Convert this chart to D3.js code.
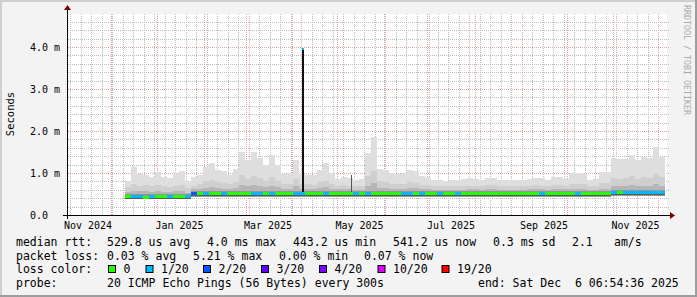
<!DOCTYPE html>
<html>
<head>
<meta charset="utf-8">
<script src="https://cdn.jsdelivr.net/npm/d3@7"></script>
<style>
  body { margin: 0; background: #f3f3f3; }
  svg text { font-family: "DejaVu Sans Mono", monospace; white-space: pre; }
</style>
</head>
<body>
<div id="chart"></div>
<script>
// time range of the graph (400 days)
const rangeStart = Date.UTC(2024, 10, 1, 6, 54, 36);
const rangeEnd = Date.UTC(2025, 11, 6, 6, 54, 36);

// consolidated rows, one every 4 days from Dec 10 2024
const dataStart = Date.UTC(2024, 11, 10, 14, 0, 0);
const stepDays = 4;

// median rtt (ms)
const median = [0.45,0.45,0.45,0.44,0.45,0.45,0.45,0.45,0.45,0.45,0.45,
  0.53,0.53,0.53,0.53,0.53,0.53,0.53,0.53,0.53,0.53,0.53,
  0.53,0.53,0.53,0.53,0.53,0.53,0.53,0.53,0.53,0.53,0.53,0.53,0.53,0.53,0.53,0.53,0.53,0.53,
  0.53,0.53,0.53,0.53,0.53,0.53,0.53,0.53,0.53,0.53,0.53,
  0.53,0.53,0.53,0.53,0.53,0.53,0.53,0.53,0.53,0.53,
  0.53,0.53,0.53,0.53,0.53,0.53,0.53,0.53,0.53,0.53,0.53,0.53,0.53,0.53,0.53,0.53,0.53,0.53,0.53,0.53,
  0.54,0.54,0.555,0.555,0.555,0.555,0.555,0.555,0.555];

// loss bucket index per row (0 = 0, 1 = 1/20, 2 = 2/20 ...)
const loss = [0,1,1,0,1,0,0,1,0,0,1,
  2,0,1,0,0,1,0,0,0,0,1,
  1,0,1,0,0,0,1,1,0,0,0,1,0,0,0,0,1,0,
  1,0,0,0,0,0,1,1,0,1,0,
  0,1,0,0,1,0,0,0,0,0,
  0,0,0,0,0,0,0,0,1,0,0,0,0,0,1,0,0,0,0,0,
  1,0,1,1,1,1,1,1,1];

// smoke: outer / middle / inner percentile tops and bottom (ms)
const smokeTop = [0.82,1.15,0.98,0.95,0.91,1.02,0.91,0.88,0.98,1.05,0.80,
  0.90,0.95,1.15,1.24,1.07,1.05,0.95,1.10,1.50,1.30,1.50,
  1.35,1.20,1.43,1.20,0.98,1.00,1.31,0.98,0.95,0.95,1.07,1.23,1.00,0.86,0.90,0.88,0.83,0.85,
  1.47,1.86,1.10,1.07,1.00,0.98,1.00,1.08,1.05,0.93,0.90,
  0.84,0.83,0.82,0.84,0.83,0.85,0.87,0.86,0.84,0.89,
  0.89,0.84,0.83,0.83,0.84,0.83,0.86,0.89,0.88,0.84,0.90,0.90,0.85,1.00,1.00,0.98,0.83,0.85,1.03,1.02,
  1.36,1.33,1.33,1.43,1.30,1.38,1.36,1.62,1.38];

const smokeMid = [0.66,0.74,0.70,0.72,0.68,0.71,0.69,0.66,0.70,0.72,0.64,
  0.70,0.74,0.80,0.84,0.78,0.76,0.74,0.78,0.95,0.86,0.92,
  0.88,0.82,0.90,0.82,0.74,0.75,0.86,0.74,0.73,0.72,0.78,0.82,0.74,0.70,0.71,0.70,0.68,0.69,
  0.92,1.05,0.80,0.78,0.75,0.74,0.75,0.78,0.77,0.72,0.71,
  0.69,0.68,0.68,0.69,0.68,0.69,0.70,0.70,0.69,0.71,
  0.71,0.69,0.68,0.68,0.69,0.68,0.70,0.71,0.70,0.69,0.72,0.72,0.70,0.75,0.75,0.74,0.68,0.69,0.76,0.76,
  0.88,0.86,0.87,0.92,0.86,0.90,0.88,0.98,0.90];

const smokeInner = [0.55,0.58,0.56,0.57,0.55,0.57,0.55,0.54,0.56,0.57,0.53,
  0.61,0.62,0.65,0.67,0.64,0.63,0.62,0.64,0.72,0.68,0.71,
  0.69,0.66,0.70,0.66,0.62,0.63,0.68,0.62,0.62,0.61,0.64,0.66,0.62,0.61,0.61,0.61,0.60,0.60,
  0.70,0.76,0.64,0.64,0.63,0.62,0.63,0.64,0.64,0.62,0.61,
  0.60,0.60,0.60,0.60,0.60,0.60,0.61,0.61,0.60,0.61,
  0.61,0.60,0.60,0.60,0.60,0.60,0.61,0.61,0.61,0.60,0.62,0.62,0.61,0.63,0.63,0.63,0.60,0.60,0.63,0.63,
  0.69,0.68,0.69,0.71,0.68,0.70,0.69,0.74,0.70];

const smokeLow = [0.41,0.41,0.41,0.40,0.41,0.41,0.41,0.41,0.41,0.41,0.41,
  0.44,0.44,0.44,0.44,0.44,0.44,0.44,0.44,0.44,0.44,0.44,
  0.44,0.44,0.44,0.44,0.44,0.44,0.44,0.44,0.44,0.44,0.44,0.44,0.44,0.44,0.44,0.44,0.44,0.44,
  0.44,0.44,0.44,0.44,0.44,0.44,0.44,0.44,0.44,0.44,0.44,
  0.44,0.44,0.44,0.44,0.44,0.44,0.44,0.44,0.44,0.44,
  0.44,0.44,0.44,0.44,0.44,0.44,0.44,0.44,0.44,0.44,0.44,0.44,0.44,0.44,0.44,0.44,0.44,0.44,0.44,0.44,
  0.45,0.45,0.46,0.46,0.46,0.46,0.46,0.46,0.46];

// single 5 minute outliers that survive consolidation
const peakDates = [Date.UTC(2025, 3, 8, 12), Date.UTC(2025, 4, 10, 12)];
const peakValues = [3.97, 0.95];
const peakBase = [0.53, 0.53];

// axis ticks
const yTicks = [0, 1, 2, 3, 4];
const yTickLabels = ["0.0  ", "1.0 m", "2.0 m", "3.0 m", "4.0 m"];
const xLabelMonths = [[2024,10],[2025,0],[2025,2],[2025,4],[2025,6],[2025,8],[2025,10]];

// legend
const lossLabels = ["0", "1/20", "2/20", "3/20", "4/20", "10/20", "19/20"];
const lossColors = ["#26ff00", "#00b8ff", "#0059ff", "#5e00ff", "#7e00ff", "#dd00ff", "#ff0000"];
const legendRtt = [["median rtt:", 16], ["529.8 us avg", 107], ["4.0 ms max", 207], ["443.2 us min", 293],
  ["541.2 us now", 393], ["0.3 ms sd", 493], ["2.1", 572], ["am/s", 614]];
const legendLoss = [["packet loss:", 16], ["0.03 % avg", 107], ["5.21 % max", 193], ["0.00 % min", 279], ["0.07 % now", 364]];
const lossLegendX = [108, 145.5, 203, 261, 319, 377.5, 441.5];
const probeText = "20 ICMP Echo Pings (56 Bytes) every 300s";
const endText = "end: Sat Dec  6 06:54:36 2025";

const W = 697, H = 297;
const plot = {left: 67, right: 667, top: 14, bottom: 215};

const svg = d3.select("#chart").append("svg")
  .attr("width", W)
  .attr("height", H);

// frame with rrdtool style shading
svg.append("rect").attr("x", 0).attr("y", 0).attr("width", W).attr("height", H).attr("fill", "#f3f3f3");
svg.append("path").attr("d", "M0,0H" + W + "V2H2V" + H + "H0Z").attr("fill", "#cfcfcf");
svg.append("path").attr("d", "M" + W + "," + H + "H0V" + (H - 2) + "H" + (W - 2) + "V0H" + W + "Z").attr("fill", "#9e9e9e");

svg.append("rect")
  .attr("x", plot.left).attr("y", plot.top)
  .attr("width", plot.right - plot.left).attr("height", plot.bottom - plot.top)
  .attr("fill", "#ffffff");

const x = d3.scaleUtc().domain([rangeStart, rangeEnd]).range([plot.left - 1, plot.right - 1]);
const y = d3.scaleLinear().domain([0, 1]).range([plot.bottom, plot.bottom - 42]);

svg.append("clipPath").attr("id", "clip")
  .append("rect")
  .attr("x", plot.left).attr("y", plot.top)
  .attr("width", plot.right - plot.left).attr("height", plot.bottom - plot.top);

// grid, drawn as 1px dots
const grid = svg.append("g").attr("shape-rendering", "crispEdges");
function hline(v, color) {
  const yy = Math.round(y(v));
  for (let xx = plot.left + 1; xx <= plot.right + 1; xx += 2) {
    grid.append("rect").attr("x", xx).attr("y", yy).attr("width", 1).attr("height", 1).attr("fill", color);
  }
}
function vline(t, color) {
  const xx = Math.round(x(t));
  for (let yy = plot.top; yy < plot.bottom; yy += 2) {
    grid.append("rect").attr("x", xx).attr("y", yy).attr("width", 1).attr("height", 1).attr("fill", color);
  }
}
const minorY = d3.range(0, 4.8, 0.2).filter(v => Math.abs(v - Math.round(v)) > 0.01);
const weeks = d3.utcMonday.range(new Date(rangeStart), new Date(rangeEnd));
const months = d3.utcMonth.range(new Date(rangeStart), new Date(rangeEnd));
minorY.forEach(v => hline(v, "#bcbcbc"));
weeks.forEach(t => vline(t, "#bcbcbc"));
yTicks.slice(1).forEach(v => hline(v, "#e2a4a4"));
months.forEach(t => vline(t, "#e2a4a4"));

// rows
const rows = median.map((m, i) => ({
  t0: dataStart + i * stepDays * 86400000,
  t1: dataStart + (i + 1) * stepDays * 86400000,
  median: m, loss: loss[i], top: smokeTop[i], mid: smokeMid[i], inner: smokeInner[i], low: smokeLow[i]
}));

const data = svg.append("g").attr("clip-path", "url(#clip)").attr("shape-rendering", "crispEdges");

function band(color, lo, hi) {
  data.append("g").selectAll("rect").data(rows).enter().append("rect")
    .attr("x", d => Math.round(x(d.t0)))
    .attr("width", d => Math.round(x(d.t1)) - Math.round(x(d.t0)))
    .attr("y", d => Math.round(y(hi(d))))
    .attr("height", d => Math.max(0, Math.round(y(lo(d))) - Math.round(y(hi(d)))))
    .attr("fill", color);
}
band("#dedede", d => d.low, d => d.top);
band("#cfcfcf", d => d.low, d => d.mid);
band("#b6b6b6", d => d.low, d => d.inner);
band("#959595", d => d.low, d => d.median + 0.05);
band("#5a5a5a", d => d.median - 0.07, d => d.median - 0.02);

// outliers
data.selectAll("rect.peak").data(peakDates).enter().append("rect")
  .attr("x", d => Math.round(x(d)) - (d === peakDates[0] ? 1 : 0))
  .attr("width", (d, i) => i === 0 ? 2 : 1)
  .attr("y", (d, i) => Math.round(y(peakValues[i])))
  .attr("height", (d, i) => Math.round(y(peakBase[i])) - Math.round(y(peakValues[i])))
  .attr("fill", (d, i) => i === 0 ? "#111111" : "#555555");
data.append("rect")
  .attr("x", Math.round(x(peakDates[0])) - 1).attr("width", 2)
  .attr("y", Math.round(y(peakValues[0]))).attr("height", 2)
  .attr("fill", lossColors[1]);

// median coloured by loss
data.append("g").selectAll("rect").data(rows).enter().append("rect")
  .attr("x", d => Math.round(x(d.t0)))
  .attr("width", d => Math.round(x(d.t1)) - Math.round(x(d.t0)))
  .attr("y", d => Math.round(y(d.median)) - 1)
  .attr("height", 3)
  .attr("fill", d => lossColors[d.loss]);

// axes
svg.append("line").attr("x1", plot.left - 4).attr("x2", plot.right + 3)
  .attr("y1", plot.bottom + 0.5).attr("y2", plot.bottom + 0.5).attr("stroke", "#000");
svg.append("line").attr("x1", plot.left + 0.5).attr("x2", plot.left + 0.5)
  .attr("y1", plot.bottom + 4).attr("y2", plot.top - 4).attr("stroke", "#000");
svg.append("path").attr("d", "M" + (plot.right + 3) + "," + (plot.bottom - 3) + "l5,3.5l-5,3.5z").attr("fill", "#7f0000");
svg.append("path").attr("d", "M" + (plot.left - 3) + "," + (plot.top - 4) + "l3.5,-5l3.5,5z").attr("fill", "#7f0000");

// y labels
svg.selectAll("text.ylab").data(yTicks).enter().append("text")
  .attr("x", 30).attr("y", d => y(d) + 3.5)
  .attr("font-size", "10px").attr("fill", "#000")
  .text((d, i) => yTickLabels[i]);

// x labels, centred on mid month
svg.selectAll("text.xlab").data(xLabelMonths).enter().append("text")
  .attr("x", d => x(Date.UTC(d[0], d[1], 16)))
  .attr("y", 228.5)
  .attr("text-anchor", "middle").attr("font-size", "10px").attr("fill", "#000")
  .text(d => d3.utcFormat("%b %Y")(new Date(Date.UTC(d[0], d[1], 1))));

svg.append("text")
  .attr("transform", "translate(14,114) rotate(-90)")
  .attr("text-anchor", "middle").attr("font-size", "10.5px")
  .text("Seconds");

svg.append("text")
  .attr("transform", "translate(684,5) rotate(90)")
  .attr("font-size", "8.3px").attr("fill", "#aaaaaa")
  .text("RRDTOOL / TOBI OETIKER");

// legend
const lg = svg.append("g").attr("font-size", "11.5px").attr("fill", "#000");
lg.selectAll("text.l1").data(legendRtt).enter().append("text")
  .attr("x", d => d[1]).attr("y", 246).text(d => d[0]);
lg.selectAll("text.l2").data(legendLoss).enter().append("text")
  .attr("x", d => d[1]).attr("y", 259.5).text(d => d[0]);
lg.append("text").attr("x", 16).attr("y", 273).text("loss color:");
lg.selectAll("rect.sw").data(lossLabels).enter().append("rect")
  .attr("x", (d, i) => lossLegendX[i] + 0.5).attr("y", 265.5)
  .attr("width", 7).attr("height", 7)
  .attr("fill", (d, i) => lossColors[i]).attr("stroke", "#000").attr("stroke-width", 1);
lg.selectAll("text.l3").data(lossLabels).enter().append("text")
  .attr("x", (d, i) => lossLegendX[i] + 15.5).attr("y", 273).text(d => d);
lg.append("text").attr("x", 16).attr("y", 286.5).text("probe:");
lg.append("text").attr("x", 107).attr("y", 286.5).text(probeText);
lg.append("text").attr("x", 478).attr("y", 286.5).text(endText);
</script>
</body>
</html>
